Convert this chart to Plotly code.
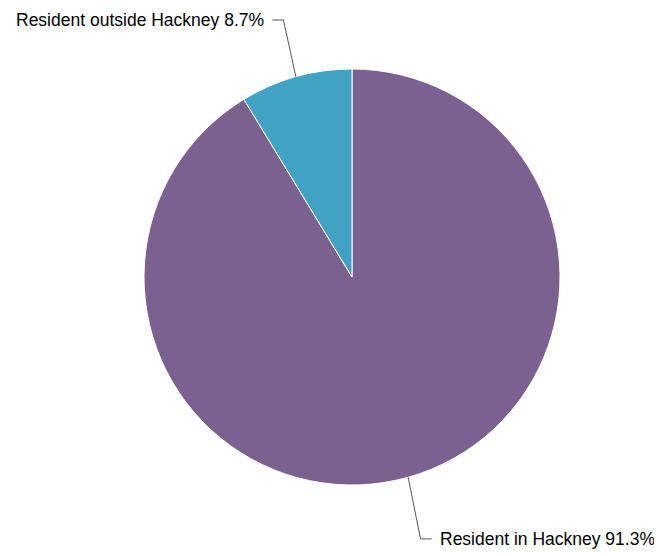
import math

import plotly.graph_objects as go

# Data (clockwise from 12 o'clock)
labels = ["Resident in Hackney", "Resident outside Hackney"]
values = [91.3, 8.7]
colors = ["#7b6190", "#41a3c4"]

# Canvas / pie geometry (pixels); page body adds an 8px offset
W, H = 662, 556
OFF = 8
CX, CY, R = 352 - OFF, 277 - OFF, 208
FONT_SIZE = 17.5
EDGE = 12  # keep label boxes inside the canvas


def px_to_paper(x, y):
    return x / W, 1 - y / H


fig = go.Figure()

fig.add_trace(
    go.Pie(
        labels=labels,
        values=values,
        marker=dict(colors=colors, line=dict(color="white", width=1)),
        sort=False,
        direction="clockwise",
        rotation=0,
        textinfo="none",
        hoverinfo="label+percent",
        domain=dict(
            x=[(CX - R) / W, (CX + R) / W],
            y=[1 - (CY + R) / H, 1 - (CY - R) / H],
        ),
        showlegend=False,
    )
)

# Leader lines and labels, placed from each slice's mid-angle
total = sum(values)
start = 0.0
shapes = []
annotations = []
for label, val in zip(labels, values):
    frac = val / total
    mid = (start + frac / 2) * 2 * math.pi
    start += frac
    ux, uy = math.sin(mid), -math.cos(mid)  # clockwise from top, y down
    ex, ey = CX + R * ux, CY + R * uy
    side = 1 if ux >= 0 else -1
    kx, ky = ex + 46 * ux, ey + 64 * uy
    ky = min(max(ky, EDGE), H - OFF - EDGE)
    hx = kx + side * 11
    p0 = px_to_paper(ex, ey)
    p1 = px_to_paper(kx, ky)
    p2 = px_to_paper(hx, ky)
    shapes.append(
        dict(
            type="path",
            xref="paper",
            yref="paper",
            path=f"M {p0[0]},{p0[1]} L {p1[0]},{p1[1]} L {p2[0]},{p2[1]}",
            line=dict(color="#555555", width=1),
        )
    )
    tx, ty = px_to_paper(hx + side * 7, ky)
    annotations.append(
        dict(
            x=tx,
            y=ty,
            xref="paper",
            yref="paper",
            text=f"{label} {val}%",
            showarrow=False,
            borderpad=0,
            xanchor="left" if side > 0 else "right",
            yanchor="middle",
            font=dict(size=FONT_SIZE, color="#000000"),
        )
    )

fig.update_layout(
    width=W,
    height=H,
    autosize=False,
    margin=dict(l=0, r=0, t=0, b=0),
    paper_bgcolor="white",
    plot_bgcolor="white",
    font=dict(family="Liberation Sans, Arial, sans-serif"),
    shapes=shapes,
    annotations=annotations,
)

fig.write_html("out.html")
